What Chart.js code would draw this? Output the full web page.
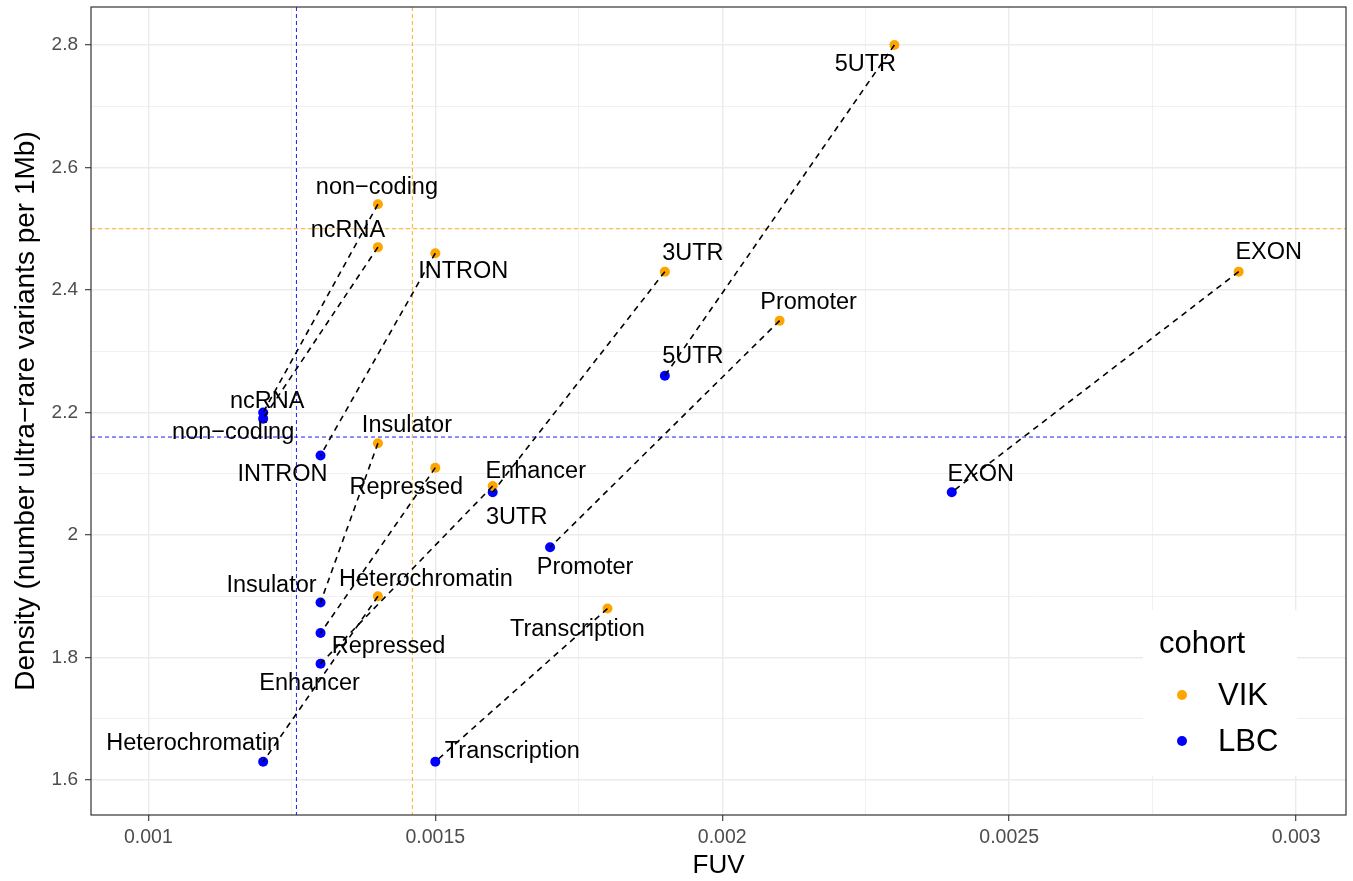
<!DOCTYPE html>
<html lang="en">
<head>
<meta charset="UTF-8">
<title>FUV vs density by cohort</title>
<style>
  body { margin: 0; background: #ffffff; }
  .wrap { width: 1353px; height: 881px; }
</style>
</head>
<body>
<div class="wrap"><canvas id="chart"></canvas></div>
<script src="https://cdn.jsdelivr.net/npm/chart.js"></script>
<script>
// region names, shared by both cohorts
const regions = ['5UTR', 'non\u2212coding', 'ncRNA', 'INTRON', '3UTR', 'EXON', 'Promoter',
                 'Insulator', 'Repressed', 'Enhancer', 'Heterochromatin', 'Transcription'];

const vikFuv     = [0.0023, 0.0014, 0.0014, 0.0015, 0.0019, 0.0029, 0.0021, 0.0014, 0.0015, 0.0016, 0.0014, 0.0018];
const vikDensity = [2.80, 2.54, 2.47, 2.46, 2.43, 2.43, 2.35, 2.15, 2.11, 2.08, 1.90, 1.88];

const lbcFuv     = [0.0019, 0.0012, 0.0012, 0.0013, 0.0016, 0.0024, 0.0017, 0.0013, 0.0013, 0.0013, 0.0012, 0.0015];
const lbcDensity = [2.26, 2.20, 2.19, 2.13, 2.07, 2.07, 1.98, 1.89, 1.84, 1.79, 1.63, 1.63];

// cohort means (dashed reference lines)
const vikMeanFuv = 0.00146, vikMeanDensity = 2.50;
const lbcMeanFuv = 0.001258, lbcMeanDensity = 2.16;

const xTicks = [0.001, 0.0015, 0.002, 0.0025, 0.003];
const xTickLabels = ['0.001', '0.0015', '0.002', '0.0025', '0.003'];
const yTicks = [1.6, 1.8, 2.0, 2.2, 2.4, 2.6, 2.8];
const yTickLabels = ['1.6', '1.8', '2', '2.2', '2.4', '2.6', '2.8'];

// label nudges in px (where ggrepel put the text)
const vikNudge = [[-29, 20], [-1, -17], [-30, -17], [28, 18], [28, -18], [30, -19], [29, -18],
                  [29, -18], [-29, 20], [43, -15], [48, -17], [-30, 21]];
const lbcNudge = [[28, -19], [-30, 20], [4, -17], [-38, 19], [24, 25], [29, -18], [35, 20],
                  [-49, -17], [68, 13], [-11, 20], [-70, -18], [77, -10]];

const FONT = '"Liberation Sans", Arial, Helvetica, sans-serif';
const VIK_COL = '#FFA500';
const LBC_COL = '#0000FF';

Chart.defaults.font.family = FONT;

const mids = arr => arr.slice(0, -1).map((v, i) => (v + arr[i + 1]) / 2);
const isMajor = (v, arr) => arr.some(t => Math.abs(t - v) < 1e-9);

const pairLines = regions.map((r, i) => ({
    type: 'line',
    label: r,
    data: [{x: vikFuv[i], y: vikDensity[i]}, {x: lbcFuv[i], y: lbcDensity[i]}],
    borderColor: '#000000',
    borderWidth: 1.6,
    borderDash: [6, 5],
    pointRadius: 0,
    fill: false,
    order: 0
}));

const VIK_IDX = pairLines.length;
const LBC_IDX = pairLines.length + 1;

const refLines = {
    id: 'refLines',
    beforeDatasetsDraw(chart) {
        const {ctx, chartArea: a, scales: {x, y}} = chart;
        ctx.save();
        ctx.lineWidth = 0.9;
        ctx.setLineDash([4, 3]);
        [[vikMeanFuv, VIK_COL], [lbcMeanFuv, LBC_COL]].forEach(([v, c]) => {
            const px = x.getPixelForValue(v);
            ctx.strokeStyle = c;
            ctx.beginPath(); ctx.moveTo(px, a.top); ctx.lineTo(px, a.bottom); ctx.stroke();
        });
        [[vikMeanDensity, VIK_COL], [lbcMeanDensity, LBC_COL]].forEach(([v, c]) => {
            const py = y.getPixelForValue(v);
            ctx.strokeStyle = c;
            ctx.beginPath(); ctx.moveTo(a.left, py); ctx.lineTo(a.right, py); ctx.stroke();
        });
        ctx.restore();
    }
};

// text labels next to every point
const pointLabels = {
    id: 'pointLabels',
    afterDatasetsDraw(chart) {
        const ctx = chart.ctx;
        ctx.save();
        ctx.font = '23.5px ' + FONT;
        ctx.textAlign = 'center';
        ctx.textBaseline = 'middle';
        ctx.fillStyle = '#000000';
        [[VIK_IDX, vikNudge], [LBC_IDX, lbcNudge]].forEach(([di, nudge]) => {
            chart.getDatasetMeta(di).data.forEach((pt, i) => {
                ctx.fillText(regions[i], pt.x + nudge[i][0], pt.y + nudge[i][1]);
            });
        });
        ctx.restore();
    }
};

const frameAndLegend = {
    id: 'frameAndLegend',
    beforeDraw(chart) {
        const ctx = chart.ctx;
        ctx.save();
        ctx.fillStyle = '#ffffff';
        ctx.fillRect(0, 0, chart.width, chart.height);
        ctx.restore();
    },
    afterDraw(chart) {
        const {ctx, chartArea: a} = chart;
        ctx.save();
        // legend inside the panel, bottom right
        const lx = a.right - 203, ly = a.bottom - 205;
        ctx.fillStyle = '#ffffff';
        ctx.fillRect(lx, ly, 154, 166);
        ctx.fillStyle = '#000000';
        ctx.textBaseline = 'middle';
        ctx.textAlign = 'left';
        ctx.font = '31px ' + FONT;
        ctx.fillText('cohort', lx + 16, ly + 34);
        [['VIK', VIK_COL], ['LBC', LBC_COL]].forEach(([name, col], k) => {
            const cy = ly + 85 + k * 46;
            ctx.fillStyle = col;
            ctx.beginPath(); ctx.arc(lx + 39, cy, 5, 0, Math.PI * 2); ctx.fill();
            ctx.fillStyle = '#000000';
            ctx.fillText(name, lx + 75, cy + 1);
        });
        // panel border
        ctx.strokeStyle = '#333333';
        ctx.lineWidth = 1.2;
        ctx.strokeRect(a.left, a.top, a.right - a.left, a.bottom - a.top);
        ctx.restore();
    }
};

new Chart(document.getElementById('chart'), {
    type: 'scatter',
    data: {
        datasets: [
            ...pairLines,
            {
                label: 'VIK',
                data: vikFuv.map((v, i) => ({x: v, y: vikDensity[i]})),
                backgroundColor: VIK_COL,
                borderWidth: 0,
                pointRadius: 5,
                pointHoverRadius: 5,
                order: 1
            },
            {
                label: 'LBC',
                data: lbcFuv.map((v, i) => ({x: v, y: lbcDensity[i]})),
                backgroundColor: LBC_COL,
                borderWidth: 0,
                pointRadius: 5,
                pointHoverRadius: 5,
                order: 1
            }
        ]
    },
    options: {
        responsive: true,
        maintainAspectRatio: false,
        animation: false,
        events: [],
        layout: { padding: { top: 7, right: 7, left: 0, bottom: 0 } },
        plugins: {
            legend: { display: false },
            tooltip: { enabled: false }
        },
        scales: {
            x: {
                type: 'linear',
                min: 0.0009,
                max: 0.003087,
                afterBuildTicks: s => {
                    s.ticks = [...xTicks, ...mids(xTicks)].sort((a, b) => a - b).map(v => ({value: v}));
                },
                afterFit: s => { s.height = 66; s.paddingLeft = 0; s.paddingRight = 0; },
                ticks: {
                    autoSkip: false,
                    maxRotation: 0,
                    padding: 5,
                    color: '#4D4D4D',
                    font: { size: 19.5 },
                    callback: v => {
                        const k = xTicks.findIndex(t => Math.abs(t - v) < 1e-9);
                        return k < 0 ? '' : xTickLabels[k];
                    }
                },
                grid: {
                    color: '#EBEBEB',
                    lineWidth: c => isMajor(c.tick.value, xTicks) ? 1.4 : 0.7,
                    tickLength: 6,
                    tickWidth: 1.1,
                    tickColor: c => isMajor(c.tick.value, xTicks) ? '#333333' : 'rgba(0,0,0,0)'
                },
                border: { display: false },
                title: {
                    display: true,
                    text: 'FUV',
                    color: '#000000',
                    font: { size: 26 },
                    padding: { top: 0, bottom: 0 }
                }
            },
            y: {
                type: 'linear',
                min: 1.543,
                max: 2.862,
                afterBuildTicks: s => {
                    s.ticks = [...yTicks, ...mids(yTicks)].sort((a, b) => a - b).map(v => ({value: v}));
                },
                afterFit: s => { s.width = 91; s.paddingTop = 0; s.paddingBottom = 0; },
                ticks: {
                    autoSkip: false,
                    padding: 7,
                    color: '#4D4D4D',
                    font: { size: 19 },
                    callback: v => {
                        const k = yTicks.findIndex(t => Math.abs(t - v) < 1e-9);
                        return k < 0 ? '' : yTickLabels[k];
                    }
                },
                grid: {
                    color: '#EBEBEB',
                    lineWidth: c => isMajor(c.tick.value, yTicks) ? 1.4 : 0.7,
                    tickLength: 6,
                    tickWidth: 1.1,
                    tickColor: c => isMajor(c.tick.value, yTicks) ? '#333333' : 'rgba(0,0,0,0)'
                },
                border: { display: false },
                title: {
                    display: true,
                    text: 'Density (number ultra\u2212rare variants per 1Mb)',
                    color: '#000000',
                    font: { size: 28 },
                    padding: { top: 9, bottom: 0 }
                }
            }
        }
    },
    plugins: [frameAndLegend, refLines, pointLabels]
});
</script>
</body>
</html>
